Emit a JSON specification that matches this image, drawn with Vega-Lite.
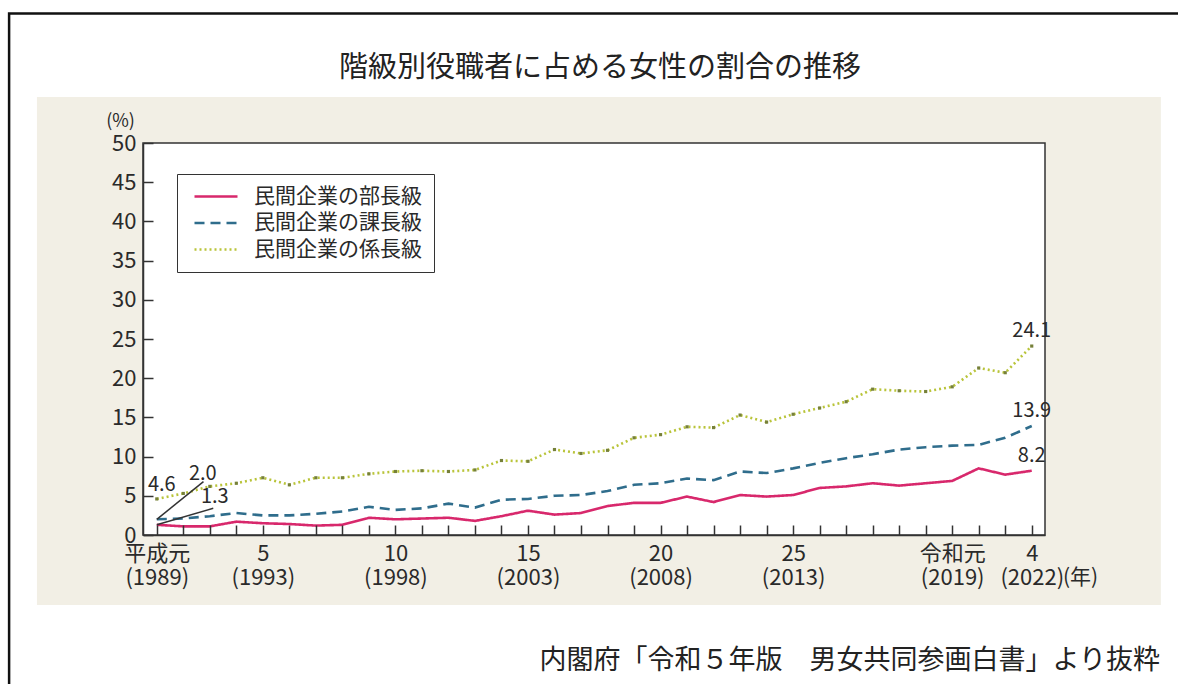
{
  "$schema": "https://vega.github.io/schema/vega-lite/v6.json",
  "width": 902,
  "height": 392,
  "autosize": {"type": "none"},
  "padding": {"left": 143, "top": 143, "right": 133, "bottom": 149},
  "background": "white",
  "config": {
    "font": "Noto Sans CJK JP",
    "view": {"stroke": null},
    "axis": {"labelFlush": false, "grid": false, "labelOverlap": false},
    "legend": {"labelFont": "Noto Sans CJK JP"}
  },
  "datasets": {
    "main": [
      {"year": 1989, "series": "民間企業の部長級", "value": 1.3},
      {"year": 1990, "series": "民間企業の部長級", "value": 1.1},
      {"year": 1991, "series": "民間企業の部長級", "value": 1.1},
      {"year": 1992, "series": "民間企業の部長級", "value": 1.7},
      {"year": 1993, "series": "民間企業の部長級", "value": 1.5},
      {"year": 1994, "series": "民間企業の部長級", "value": 1.4},
      {"year": 1995, "series": "民間企業の部長級", "value": 1.2},
      {"year": 1996, "series": "民間企業の部長級", "value": 1.3},
      {"year": 1997, "series": "民間企業の部長級", "value": 2.2},
      {"year": 1998, "series": "民間企業の部長級", "value": 2.0},
      {"year": 1999, "series": "民間企業の部長級", "value": 2.1},
      {"year": 2000, "series": "民間企業の部長級", "value": 2.2},
      {"year": 2001, "series": "民間企業の部長級", "value": 1.8},
      {"year": 2002, "series": "民間企業の部長級", "value": 2.4},
      {"year": 2003, "series": "民間企業の部長級", "value": 3.1},
      {"year": 2004, "series": "民間企業の部長級", "value": 2.6},
      {"year": 2005, "series": "民間企業の部長級", "value": 2.8},
      {"year": 2006, "series": "民間企業の部長級", "value": 3.7},
      {"year": 2007, "series": "民間企業の部長級", "value": 4.1},
      {"year": 2008, "series": "民間企業の部長級", "value": 4.1},
      {"year": 2009, "series": "民間企業の部長級", "value": 4.9},
      {"year": 2010, "series": "民間企業の部長級", "value": 4.2},
      {"year": 2011, "series": "民間企業の部長級", "value": 5.1},
      {"year": 2012, "series": "民間企業の部長級", "value": 4.9},
      {"year": 2013, "series": "民間企業の部長級", "value": 5.1},
      {"year": 2014, "series": "民間企業の部長級", "value": 6.0},
      {"year": 2015, "series": "民間企業の部長級", "value": 6.2},
      {"year": 2016, "series": "民間企業の部長級", "value": 6.6},
      {"year": 2017, "series": "民間企業の部長級", "value": 6.3},
      {"year": 2018, "series": "民間企業の部長級", "value": 6.6},
      {"year": 2019, "series": "民間企業の部長級", "value": 6.9},
      {"year": 2020, "series": "民間企業の部長級", "value": 8.5},
      {"year": 2021, "series": "民間企業の部長級", "value": 7.7},
      {"year": 2022, "series": "民間企業の部長級", "value": 8.2},
      {"year": 1989, "series": "民間企業の課長級", "value": 2.0},
      {"year": 1990, "series": "民間企業の課長級", "value": 2.1},
      {"year": 1991, "series": "民間企業の課長級", "value": 2.4},
      {"year": 1992, "series": "民間企業の課長級", "value": 2.8},
      {"year": 1993, "series": "民間企業の課長級", "value": 2.5},
      {"year": 1994, "series": "民間企業の課長級", "value": 2.5},
      {"year": 1995, "series": "民間企業の課長級", "value": 2.7},
      {"year": 1996, "series": "民間企業の課長級", "value": 3.0},
      {"year": 1997, "series": "民間企業の課長級", "value": 3.6},
      {"year": 1998, "series": "民間企業の課長級", "value": 3.2},
      {"year": 1999, "series": "民間企業の課長級", "value": 3.4},
      {"year": 2000, "series": "民間企業の課長級", "value": 4.0},
      {"year": 2001, "series": "民間企業の課長級", "value": 3.5},
      {"year": 2002, "series": "民間企業の課長級", "value": 4.5},
      {"year": 2003, "series": "民間企業の課長級", "value": 4.6},
      {"year": 2004, "series": "民間企業の課長級", "value": 5.0},
      {"year": 2005, "series": "民間企業の課長級", "value": 5.1},
      {"year": 2006, "series": "民間企業の課長級", "value": 5.6},
      {"year": 2007, "series": "民間企業の課長級", "value": 6.4},
      {"year": 2008, "series": "民間企業の課長級", "value": 6.6},
      {"year": 2009, "series": "民間企業の課長級", "value": 7.2},
      {"year": 2010, "series": "民間企業の課長級", "value": 7.0},
      {"year": 2011, "series": "民間企業の課長級", "value": 8.1},
      {"year": 2012, "series": "民間企業の課長級", "value": 7.9},
      {"year": 2013, "series": "民間企業の課長級", "value": 8.5},
      {"year": 2014, "series": "民間企業の課長級", "value": 9.2},
      {"year": 2015, "series": "民間企業の課長級", "value": 9.8},
      {"year": 2016, "series": "民間企業の課長級", "value": 10.3},
      {"year": 2017, "series": "民間企業の課長級", "value": 10.9},
      {"year": 2018, "series": "民間企業の課長級", "value": 11.2},
      {"year": 2019, "series": "民間企業の課長級", "value": 11.4},
      {"year": 2020, "series": "民間企業の課長級", "value": 11.5},
      {"year": 2021, "series": "民間企業の課長級", "value": 12.4},
      {"year": 2022, "series": "民間企業の課長級", "value": 13.9},
      {"year": 1989, "series": "民間企業の係長級", "value": 4.6},
      {"year": 1990, "series": "民間企業の係長級", "value": 5.3},
      {"year": 1991, "series": "民間企業の係長級", "value": 6.2},
      {"year": 1992, "series": "民間企業の係長級", "value": 6.6},
      {"year": 1993, "series": "民間企業の係長級", "value": 7.3},
      {"year": 1994, "series": "民間企業の係長級", "value": 6.4},
      {"year": 1995, "series": "民間企業の係長級", "value": 7.3},
      {"year": 1996, "series": "民間企業の係長級", "value": 7.3},
      {"year": 1997, "series": "民間企業の係長級", "value": 7.8},
      {"year": 1998, "series": "民間企業の係長級", "value": 8.1},
      {"year": 1999, "series": "民間企業の係長級", "value": 8.2},
      {"year": 2000, "series": "民間企業の係長級", "value": 8.1},
      {"year": 2001, "series": "民間企業の係長級", "value": 8.3},
      {"year": 2002, "series": "民間企業の係長級", "value": 9.5},
      {"year": 2003, "series": "民間企業の係長級", "value": 9.4},
      {"year": 2004, "series": "民間企業の係長級", "value": 10.9},
      {"year": 2005, "series": "民間企業の係長級", "value": 10.4},
      {"year": 2006, "series": "民間企業の係長級", "value": 10.8},
      {"year": 2007, "series": "民間企業の係長級", "value": 12.4},
      {"year": 2008, "series": "民間企業の係長級", "value": 12.8},
      {"year": 2009, "series": "民間企業の係長級", "value": 13.8},
      {"year": 2010, "series": "民間企業の係長級", "value": 13.7},
      {"year": 2011, "series": "民間企業の係長級", "value": 15.3},
      {"year": 2012, "series": "民間企業の係長級", "value": 14.4},
      {"year": 2013, "series": "民間企業の係長級", "value": 15.4},
      {"year": 2014, "series": "民間企業の係長級", "value": 16.2},
      {"year": 2015, "series": "民間企業の係長級", "value": 17.0},
      {"year": 2016, "series": "民間企業の係長級", "value": 18.6},
      {"year": 2017, "series": "民間企業の係長級", "value": 18.4},
      {"year": 2018, "series": "民間企業の係長級", "value": 18.3},
      {"year": 2019, "series": "民間企業の係長級", "value": 18.9},
      {"year": 2020, "series": "民間企業の係長級", "value": 21.3},
      {"year": 2021, "series": "民間企業の係長級", "value": 20.7},
      {"year": 2022, "series": "民間企業の係長級", "value": 24.1}
    ],
    "one": [{}]
  },
  "data": {"name": "main"},
  "layer": [
    {
      "data": {"name": "one"},
      "mark": {"type": "rect", "fill": "#f2efe5"},
      "encoding": {
        "x": {"datum": 1984.48, "type": "quantitative", "scale": {"domain": [1988.48, 2022.5], "nice": false, "zero": false}},
        "x2": {"datum": 2026.87},
        "y": {"datum": -8.93, "type": "quantitative", "scale": {"domain": [0, 50], "nice": false, "zero": false}},
        "y2": {"datum": 55.87}
      }
    },
    {
      "data": {"name": "one"},
      "mark": {"type": "rect", "fill": null, "fillOpacity": 0, "stroke": "#111111", "strokeWidth": 2.5},
      "encoding": {
        "x": {"datum": 1983.43, "type": "quantitative"},
        "x2": {"datum": 2028.5},
        "y": {"datum": -22, "type": "quantitative"},
        "y2": {"datum": 66.52}
      }
    },
    {
      "data": {"name": "one"},
      "mark": {"type": "rect", "fill": "white", "stroke": "#333333", "strokeWidth": 1.5},
      "encoding": {
        "x": {"datum": 1988.48, "type": "quantitative"},
        "x2": {"datum": 2022.5},
        "y": {"datum": 0, "type": "quantitative"},
        "y2": {"datum": 50}
      }
    },
    {
      "mark": {"type": "line", "strokeWidth": 2.6},
      "encoding": {
        "x": {
          "field": "year", "type": "quantitative",
          "scale": {"domain": [1988.48, 2022.5], "nice": false, "zero": false},
          "axis": {
            "values": [1989,1990,1991,1992,1993,1994,1995,1996,1997,1998,1999,2000,2001,2002,2003,2004,2005,2006,2007,2008,2009,2010,2011,2012,2013,2014,2015,2016,2017,2018,2019,2020,2021,2022],
            "tickCount": 100,
            "labelExpr": "datum.value == 1989 ? ['平成元','(1989)'] : datum.value == 1993 ? ['5','(1993)'] : datum.value == 1998 ? ['10','(1998)'] : datum.value == 2003 ? ['15','(2003)'] : datum.value == 2008 ? ['20','(2008)'] : datum.value == 2013 ? ['25','(2013)'] : datum.value == 2019 ? ['令和元','(2019)'] : datum.value == 2022 ? ['4','(2022)'] : ''",
            "labelFontSize": 22, "labelColor": "#2a2a2a", "labelLineHeight": 24,
            "labelBaseline": "top", "labelPadding": 18, "labelOverlap": false, "labelFlush": false,
            "tickSize": -10, "tickColor": "#333333", "tickWidth": 1.5,
            "domainColor": "#333333", "domainWidth": 1.5, "grid": false, "zindex": 1,
            "title": "(年)", "titleX": 937, "titleY": 42, "titleAlign": "center", "titleBaseline": "middle",
            "titleFontSize": 21, "titleFontWeight": "normal", "titleColor": "#2a2a2a", "titleAngle": 0
          }
        },
        "y": {
          "field": "value", "type": "quantitative",
          "scale": {"domain": [0, 50], "nice": false, "zero": false},
          "axis": {
            "values": [0,5,10,15,20,25,30,35,40,45,50],
            "tickCount": 100,
            "format": "d",
            "labelFontSize": 22, "labelColor": "#2a2a2a", "labelPadding": 17, "labelOverlap": false,
            "tickSize": -10, "tickColor": "#333333", "tickWidth": 1.5,
            "domainColor": "#333333", "domainWidth": 1.5, "grid": false, "zindex": 1,
            "title": "(%)", "titleAngle": 0, "titleX": -23, "titleY": -22, "titleAlign": "center", "titleBaseline": "middle",
            "titleFontSize": 18, "titleFontWeight": "normal", "titleColor": "#2a2a2a"
          }
        },
        "color": {
          "field": "series", "type": "nominal",
          "scale": {"domain": ["民間企業の部長級", "民間企業の課長級", "民間企業の係長級"], "range": ["#d8286c", "#2f6d8c", "#b9c43a"]},
          "legend": {
            "orient": "none", "legendX": 34, "legendY": 31, "title": null,
            "fillColor": "white", "strokeColor": "#333333", "padding": 12, "rowPadding": 4.5,
            "labelFontSize": 21, "labelColor": "#2a2a2a", "labelLimit": 400, "labelOffset": 44,
            "symbolType": "M-1,0H7.6", "symbolSize": 100, "symbolStrokeWidth": 2.6
          }
        },
        "strokeDash": {
          "field": "series", "type": "nominal",
          "scale": {"domain": ["民間企業の部長級", "民間企業の課長級", "民間企業の係長級"], "range": [[1, 0], [10, 6], [2, 3]]},
          "legend": {
            "orient": "none", "legendX": 34, "legendY": 31, "title": null,
            "fillColor": "white", "strokeColor": "#333333", "padding": 12, "rowPadding": 4.5,
            "labelFontSize": 21, "labelColor": "#2a2a2a", "labelLimit": 400, "labelOffset": 44,
            "symbolType": "M-1,0H7.6", "symbolSize": 100, "symbolStrokeWidth": 2.6
          }
        }
      }
    },
    {
      "transform": [{"filter": "datum.series == '民間企業の係長級'"}],
      "mark": {"type": "square", "size": 10, "color": "#76803a", "opacity": 1},
      "encoding": {
        "x": {"field": "year", "type": "quantitative"},
        "y": {"field": "value", "type": "quantitative"}
      }
    },
    {
      "transform": [{"filter": "datum.year == 1989 && datum.series == '民間企業の課長級'"}],
      "mark": {"type": "rule", "color": "#333333", "strokeWidth": 1.5},
      "encoding": {
        "x": {"field": "year", "type": "quantitative"},
        "y": {"field": "value", "type": "quantitative"},
        "x2": {"datum": 1990.76},
        "y2": {"datum": 6.8}
      }
    },
    {
      "transform": [{"filter": "datum.year == 1989 && datum.series == '民間企業の部長級'"}],
      "mark": {"type": "rule", "color": "#333333", "strokeWidth": 1.5},
      "encoding": {
        "x": {"field": "year", "type": "quantitative"},
        "y": {"field": "value", "type": "quantitative"},
        "x2": {"datum": 1991.13},
        "y2": {"datum": 3.4}
      }
    },
    {
      "transform": [{"filter": "datum.year == 2022"}],
      "mark": {"type": "text", "dy": -15, "fontSize": 20, "color": "#2a2a2a", "baseline": "middle", "align": "center"},
      "encoding": {
        "x": {"field": "year", "type": "quantitative"},
        "y": {"field": "value", "type": "quantitative"},
        "text": {"field": "value", "type": "quantitative", "format": ".1f"}
      }
    },
    {
      "transform": [{"filter": "datum.year == 1989 && datum.series == '民間企業の係長級'"}],
      "mark": {"type": "text", "dx": 5, "dy": -14, "fontSize": 20, "color": "#2a2a2a", "baseline": "middle", "align": "center"},
      "encoding": {
        "x": {"field": "year", "type": "quantitative"},
        "y": {"field": "value", "type": "quantitative"},
        "text": {"field": "value", "type": "quantitative", "format": ".1f"}
      }
    },
    {
      "transform": [{"filter": "datum.year == 1989 && datum.series == '民間企業の課長級'"}],
      "mark": {"type": "text", "dx": 46, "dy": -45, "fontSize": 20, "color": "#2a2a2a", "baseline": "middle", "align": "center"},
      "encoding": {
        "x": {"field": "year", "type": "quantitative"},
        "y": {"field": "value", "type": "quantitative"},
        "text": {"field": "value", "type": "quantitative", "format": ".1f"}
      }
    },
    {
      "transform": [{"filter": "datum.year == 1989 && datum.series == '民間企業の部長級'"}],
      "mark": {"type": "text", "dx": 58, "dy": -28, "fontSize": 20, "color": "#2a2a2a", "baseline": "middle", "align": "center"},
      "encoding": {
        "x": {"field": "year", "type": "quantitative"},
        "y": {"field": "value", "type": "quantitative"},
        "text": {"field": "value", "type": "quantitative", "format": ".1f"}
      }
    },
    {
      "data": {"values": [{"label": "階級別役職者に占める女性の割合の推移"}]},
      "mark": {"type": "text", "fontSize": 29, "color": "#222222", "align": "center", "baseline": "middle"},
      "encoding": {
        "x": {"datum": 2005.72, "type": "quantitative"},
        "y": {"datum": 59.57, "type": "quantitative"},
        "text": {"field": "label"}
      }
    },
    {
      "data": {"values": [{"label": "内閣府「令和５年版　男女共同参画白書」より抜粋"}]},
      "mark": {"type": "text", "fontSize": 27, "color": "#222222", "align": "right", "baseline": "middle"},
      "encoding": {
        "x": {"datum": 2026.84, "type": "quantitative"},
        "y": {"datum": -16.07, "type": "quantitative"},
        "text": {"field": "label"}
      }
    }
  ]
}
